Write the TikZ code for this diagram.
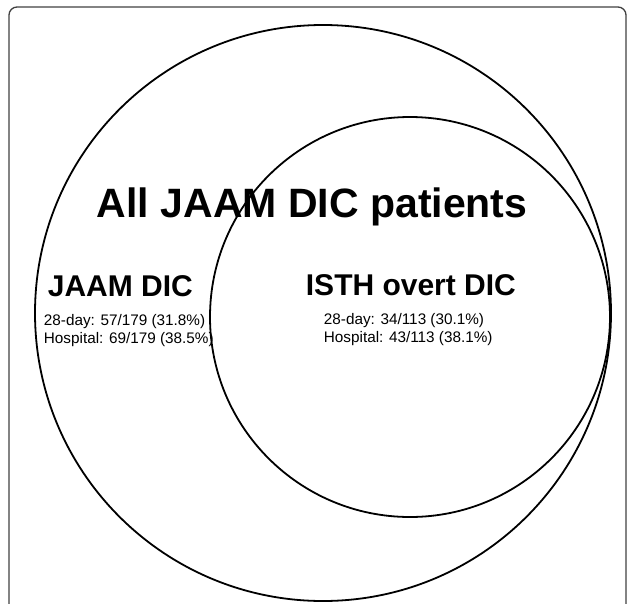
\documentclass[tikz,border=0pt]{standalone}
\usepackage{fontspec}
\setmainfont{Liberation Sans}

\begin{document}
\begin{tikzpicture}[x=1pt,y=-1pt,line width=1.8pt,
  title/.style={anchor=base west,inner sep=0pt,font=\fontsize{41}{41}\selectfont\bfseries},
  setname/.style={anchor=base west,inner sep=0pt,font=\fontsize{30}{30}\selectfont\bfseries},
  counts/.style={anchor=base west,inner sep=0pt,align=left,font=\fontsize{15.3}{18}\selectfont}]
\useasboundingbox (0,0) rectangle (627,603);
% ---- outer frame ----
\draw[line width=1.3pt,black!75,rounded corners=8pt] (9,640) -- (9,7) -- (626,7) -- (626,640);
% ---- the two sets ----
\draw (323,313) circle (288);
\draw (410,317) circle (200);
% ---- labels (base of counts = last line) ----
\node[title] (all) at (96,217) {All JAAM DIC patients};
\node[setname] (jaam) at (47,296) {JAAM DIC};
\node[counts] (jaamnum) at (43,343) {28-day: 57/179 (31.8\%)\\Hospital: 69/179 (38.5\%)};
\node[setname] (isth) at (305,295) {ISTH overt DIC};
\node[counts] (isthnum) at (323,342) {28-day: 34/113 (30.1\%)\\Hospital: 43/113 (38.1\%)};
\end{tikzpicture}
\end{document}
